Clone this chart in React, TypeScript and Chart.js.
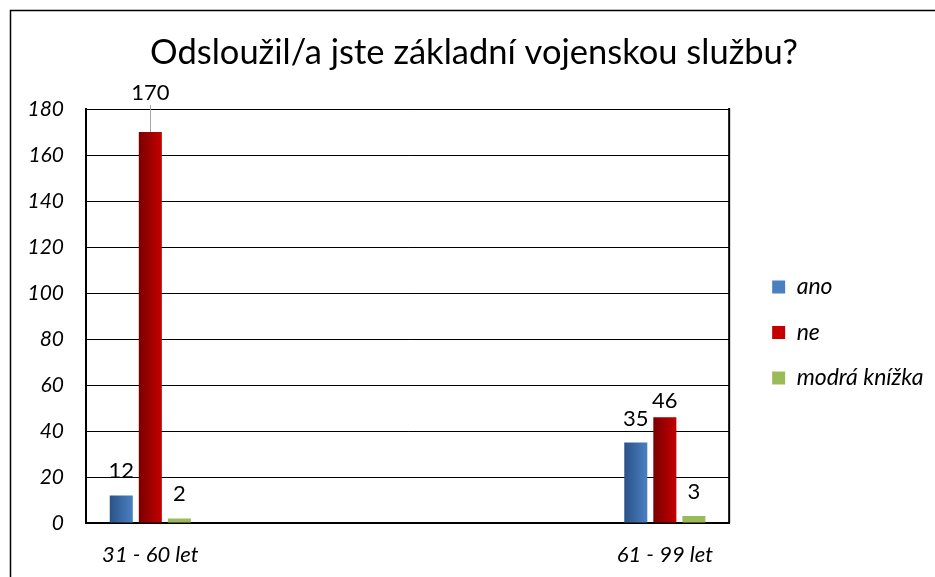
import { useEffect, useRef } from "react";
import { Chart, registerables } from "chart.js";

Chart.register(...registerables);

const titleText = "Odsloužil/a jste základní vojenskou službu?";
const categories = ["31 - 60 let", "61 - 99 let"];
const seriesNames = ["ano", "ne", "modrá knížka"];
const anoValues = [12, 35];
const neValues = [170, 46];
const modraValues = [2, 3];
const yMin = 0;
const yMax = 180;
const yStep = 20;

const FONT = "Lato";
const CAT_PCT = 0.1694;
const BAR_PCT = 0.793;

const seriesStyles = [
  { dark: "#2b5287", light: "#4a80c2", solid: "#3d6dab" },
  { dark: "#7a0000", light: "#c40000", solid: "#a80000" },
  { dark: "#9bbb59", light: "#9bbb59", solid: "#9bbb59" },
];

// label lift above bar top (px) per [dataset,index]; leader line where needed
const labelLift: Record<string, { lift: number; leader?: boolean }> = {
  "1-0": { lift: 39, leader: true },
  "1-1": { lift: 16 },
};

function makeFill(s: { dark: string; light: string; solid: string }) {
  return (ctx: any) => {
    if (ctx.type !== "data" || !ctx.parsed) return s.solid;
    const chart = ctx.chart;
    const xs = chart.scales.x;
    if (!xs || !chart.chartArea) return s.solid;
    const unit = xs.getPixelForValue(1) - xs.getPixelForValue(0);
    const chunk = (unit * CAT_PCT) / 3;
    const center = xs.getPixelForValue(ctx.parsed.x) + (ctx.datasetIndex - 1) * chunk;
    const half = (chunk * BAR_PCT) / 2;
    if (!isFinite(center) || !isFinite(half)) return s.solid;
    const g = chart.ctx.createLinearGradient(center - half, 0, center + half, 0);
    g.addColorStop(0, s.dark);
    g.addColorStop(1, s.light);
    return g;
  };
}

const framePlugin = {
  id: "frame",
  beforeDraw(chart: any) {
    const c = chart.ctx;
    c.save();
    c.fillStyle = "#ffffff";
    c.fillRect(0, 0, chart.width, chart.height);
    c.strokeStyle = "#000000";
    c.lineWidth = 1.5;
    c.beginPath();
    c.moveTo(10.5, chart.height);
    c.lineTo(10.5, 10.5);
    c.lineTo(chart.width, 10.5);
    c.stroke();
    c.restore();
  },
  afterDatasetsDraw(chart: any) {
    const c = chart.ctx;
    const a = chart.chartArea;
    c.save();
    c.strokeStyle = "#000000";
    c.lineWidth = 2;
    c.beginPath();
    c.moveTo(a.right, a.top - 1);
    c.lineTo(a.right, a.bottom);
    c.stroke();
    c.restore();
  },
};

const valueLabelPlugin = {
  id: "valueLabels",
  afterDatasetsDraw(chart: any) {
    const c = chart.ctx;
    c.save();
    c.font = `22px ${FONT}`;
    c.fillStyle = "#000000";
    c.textAlign = "center";
    c.textBaseline = "middle";
    chart.data.datasets.forEach((ds: any, di: number) => {
      const meta = chart.getDatasetMeta(di);
      meta.data.forEach((el: any, i: number) => {
        const v = ds.data[i].y;
        const cfg = labelLift[`${di}-${i}`] || { lift: 24 };
        const y = el.y - cfg.lift;
        if (cfg.leader) {
          c.strokeStyle = "#a6a6a6";
          c.lineWidth = 1;
          c.beginPath();
          c.moveTo(Math.round(el.x) + 0.5, y + 12);
          c.lineTo(Math.round(el.x) + 0.5, el.y);
          c.stroke();
        }
        c.fillText(String(v), el.x, y);
      });
    });
    c.restore();
  },
};

const layoutShiftPlugin = {
  id: "layoutShift",
  afterLayout(chart: any) {
    const l = chart.legend;
    if (l) {
      const dx = 20.5;
      const dy = 44;
      l.left += dx;
      l.right += dx;
      l.top += dy;
      l.bottom += dy;
    }
    const t = chart.titleBlock;
    if (t) {
      const tx = 474 - (t.left + t.right) / 2;
      t.left += tx;
      t.right += tx;
    }
  },
};

export default function App() {
  const ref = useRef<HTMLCanvasElement | null>(null);

  useEffect(() => {
    document.body.style.margin = "0";
    const canvas = ref.current;
    if (!canvas) return;
    const values = [anoValues, neValues, modraValues];
    const chart = new Chart(canvas, {
      type: "bar",
      data: {
        datasets: seriesNames.map((name, si) => ({
          label: name,
          data: values[si].map((v, i) => ({ x: i, y: v })),
          backgroundColor: makeFill(seriesStyles[si]),
          borderWidth: 0,
          categoryPercentage: CAT_PCT,
          barPercentage: BAR_PCT,
        })),
      },
      options: {
        responsive: false,
        animation: false,
        devicePixelRatio: 1,
        layout: { padding: { left: 10, right: 22, top: 0, bottom: 0 } },
        plugins: {
          tooltip: { enabled: false },
          title: {
            display: true,
            text: titleText,
            color: "#000000",
            font: { family: FONT, size: 34.5, weight: "normal" },
            padding: { top: 32, bottom: 35.6 },
          },
          legend: {
            display: true,
            position: "right",
            align: "center",
            labels: {
              color: "#000000",
              font: { family: FONT, size: 23, style: "italic" },
              boxWidth: 13,
              boxHeight: 13,
              padding: 22.5,
            },
          },
        },
        scales: {
          x: {
            type: "linear",
            min: -0.125,
            max: 1.125,
            offset: false,
            afterBuildTicks: (axis: any) => {
              axis.ticks = categories.map((_, i) => ({ value: i }));
            },
            afterFit: (s: any) => {
              s.height = 54;
            },
            grid: { display: false, drawTicks: false },
            border: { display: true, color: "#000000", width: 2 },
            ticks: {
              color: "#000000",
              padding: 19,
              autoSkip: false,
              maxRotation: 0,
              font: { family: FONT, size: 22, style: "italic" },
              callback: (value: any) => categories[Number(value)] ?? "",
            },
          },
          y: {
            min: yMin,
            max: yMax,
            afterFit: (s: any) => {
              s.width = 76;
            },
            grid: { color: "#000000", lineWidth: 1, drawTicks: false },
            border: { display: true, color: "#000000", width: 2 },
            ticks: {
              stepSize: yStep,
              color: "#000000",
              padding: 22,
              font: { family: FONT, size: 21, style: "italic" },
            },
          },
        },
      },
      plugins: [framePlugin, valueLabelPlugin, layoutShiftPlugin],
    } as any);
    return () => chart.destroy();
  }, []);

  return (
    <canvas
      ref={ref}
      width={935}
      height={577}
      style={{ display: "block", width: "935px", height: "577px" }}
    />
  );
}
